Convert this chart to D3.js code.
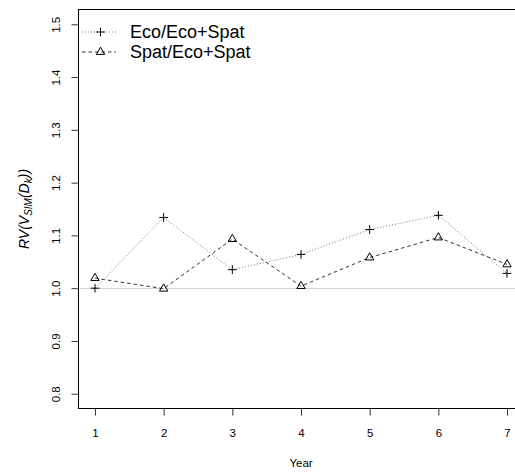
<!DOCTYPE html>
<html>
<head>
<meta charset="utf-8">
<script src="https://cdn.jsdelivr.net/npm/d3@7"></script>
<style>
  html, body { margin: 0; padding: 0; background: #fff; }
  svg { display: block; font-family: "Liberation Sans", Arial, Helvetica, sans-serif; }
</style>
</head>
<body>
<script>
// Relative variance per year for the two model comparisons
const years = [1, 2, 3, 4, 5, 6, 7];
const ecoVsBoth = [1.000, 1.134, 1.035, 1.064, 1.111, 1.138, 1.028];
const spatVsBoth = [1.019, 0.999, 1.093, 1.004, 1.058, 1.096, 1.045];
const yTicks = [0.8, 0.9, 1.0, 1.1, 1.2, 1.3, 1.4, 1.5];
const seriesNames = ["Eco/Eco+Spat", "Spat/Eco+Spat"];

const W = 515, H = 473;
const svg = d3.select("body").append("svg").attr("width", W).attr("height", H);

// Plot region (xlim 1..7, ylim 0.8..1.5 with 4% padding each side)
const x = d3.scaleLinear().domain([0.76, 7.24]).range([78.5, 523.5]);
const y = d3.scaleLinear().domain([0.772, 1.528]).range([408.5, 9.5]);

// Reference line at 1
svg.append("line")
  .attr("x1", x.range()[0]).attr("x2", x.range()[1])
  .attr("y1", Math.round(y(1)) + 0.5).attr("y2", Math.round(y(1)) + 0.5)
  .attr("stroke", "#d3d3d3").attr("stroke-width", 1);

// Axes
const tickFont = "11.5px";
const xAxis = svg.append("g").attr("transform", `translate(0,${y.range()[0]})`)
  .call(d3.axisBottom(x).tickValues(years).tickSize(7).tickPadding(13).tickFormat(d3.format("d")));
xAxis.select(".domain").remove();
xAxis.selectAll("line").attr("stroke", "#333");
xAxis.selectAll("text").attr("font-size", tickFont).attr("fill", "#000")
  .attr("font-family", "Liberation Sans, Arial, sans-serif");

const yAxis = svg.append("g").attr("transform", `translate(${x.range()[0]},0)`)
  .call(d3.axisLeft(y).tickValues(yTicks).tickSize(7).tickFormat(d3.format(".1f")));
yAxis.select(".domain").remove();
yAxis.selectAll("line").attr("stroke", "#333");
yAxis.selectAll("text").remove();
yAxis.selectAll(".tick").append("text")
  .attr("transform", "translate(-19,0) rotate(-90)")
  .attr("text-anchor", "middle")
  .attr("font-size", tickFont)
  .attr("fill", "#000")
  .text(d => d3.format(".1f")(d));

// Plot box
svg.append("rect")
  .attr("x", x.range()[0]).attr("y", y.range()[1])
  .attr("width", x.range()[1] - x.range()[0])
  .attr("height", y.range()[0] - y.range()[1])
  .attr("fill", "none").attr("stroke", "#000").attr("stroke-width", 1);

// Axis titles
svg.append("text")
  .attr("x", (x.range()[0] + x.range()[1]) / 2).attr("y", 466.5)
  .attr("text-anchor", "middle").attr("font-size", tickFont).text("Year");

const yl = svg.append("text")
  .attr("transform", `translate(28.5,${(y.range()[0] + y.range()[1]) / 2}) rotate(-90)`)
  .attr("text-anchor", "middle").attr("font-size", "14px").attr("font-style", "italic");
yl.append("tspan").text("RV(V");
yl.append("tspan").attr("font-size", "10px").attr("dy", 3).text("SIM");
yl.append("tspan").attr("dy", -3).text("(D");
yl.append("tspan").attr("font-size", "10px").attr("dy", 3).text("k");
yl.append("tspan").attr("dy", -3).text("))");

// Marker shapes
const s = 3.1;
const triPath = `M0,${-1.555 * s}L${1.347 * s},${0.778 * s}L${-1.347 * s},${0.778 * s}Z`;
const ph = 1.414 * s;
const plusPath = `M${-ph},0H${ph}M0,${-ph}V${ph}`;

const series = [
  { name: seriesNames[0], values: ecoVsBoth, dash: "1,2", color: "#777", marker: plusPath },
  { name: seriesNames[1], values: spatVsBoth, dash: "3.5,3", color: "#333", marker: triPath }
];

const line = d3.line().x((d, i) => x(years[i])).y(d => y(d));

series.forEach(sr => {
  svg.append("path")
    .attr("d", line(sr.values))
    .attr("fill", "none")
    .attr("stroke", sr.color)
    .attr("stroke-width", 1)
    .attr("stroke-dasharray", sr.dash);
  svg.append("g").selectAll("path").data(sr.values).join("path")
    .attr("transform", (d, i) => `translate(${x(years[i])},${y(d)})`)
    .attr("d", sr.marker)
    .attr("fill", "none")
    .attr("stroke", "#000")
    .attr("stroke-width", 1);
});

// Legend
const legend = svg.append("g");
series.forEach((sr, i) => {
  const cy = 32 + i * 20;
  const g = legend.append("g").attr("transform", `translate(0,${cy})`);
  g.append("line").attr("x1", 82).attr("x2", 116).attr("y1", 0).attr("y2", 0)
    .attr("stroke", sr.color).attr("stroke-dasharray", sr.dash);
  g.append("path").attr("transform", "translate(100.5,0)").attr("d", sr.marker)
    .attr("fill", "none").attr("stroke", "#000");
  g.append("text").attr("x", 130).attr("y", 6.3).attr("font-size", "18px").text(sr.name);
});
</script>
</body>
</html>
